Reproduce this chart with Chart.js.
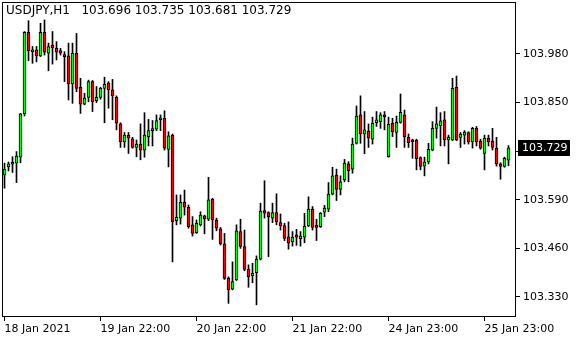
<!DOCTYPE html>
<html>
<head>
<meta charset="utf-8">
<script src="https://cdn.jsdelivr.net/npm/chart.js@4/dist/chart.umd.min.js"></script>
<style>
  html, body { margin: 0; padding: 0; background: #fff; }
  #wrap { width: 580px; height: 340px; }
</style>
</head>
<body>
<div id="wrap"><canvas id="priceChart" width="580" height="340"></canvas></div>
<script>
// USDJPY H1 candles
const symbol = 'USDJPY,H1';

const opens = [
  103.656, 103.678, 103.685, 103.688, 103.704, 103.820, 104.038, 103.986, 103.991, 103.975,
  104.038, 103.982, 104.004, 103.995, 103.989, 103.977, 103.975, 103.900, 103.982, 103.891,
  103.846, 103.864, 103.906, 103.855, 103.864, 103.888, 103.902, 103.884, 103.864, 103.793,
  103.745, 103.763, 103.753, 103.730, 103.739, 103.723, 103.759, 103.775, 103.779, 103.804,
  103.808, 103.725, 103.763, 103.534, 103.541, 103.583, 103.570, 103.523, 103.502, 103.523,
  103.547, 103.538, 103.591, 103.536, 103.512, 103.472, 103.380, 103.351, 103.376, 103.505,
  103.465, 103.404, 103.387, 103.395, 103.431, 103.561, 103.556, 103.541, 103.556, 103.529,
  103.521, 103.491, 103.478, 103.496, 103.486, 103.490, 103.520, 103.565, 103.521, 103.518,
  103.557, 103.565, 103.605, 103.656, 103.618, 103.643, 103.686, 103.672, 103.741, 103.817,
  103.766, 103.774, 103.752, 103.796, 103.799, 103.817, 103.705, 103.795, 103.770, 103.797,
  103.817, 103.757, 103.750, 103.750, 103.703, 103.680, 103.691, 103.723, 103.781, 103.788,
  103.804, 103.750, 103.750, 103.891, 103.757, 103.763, 103.770, 103.745, 103.781, 103.747,
  103.714, 103.755, 103.747, 103.728, 103.686, 103.679, 103.696
];
const highs = [
  103.688, 103.691, 103.705, 103.719, 103.821, 104.040, 104.069, 104.000, 104.000, 104.062,
  104.071, 104.009, 104.040, 104.013, 103.995, 103.986, 104.009, 104.009, 104.035, 103.915,
  103.875, 103.910, 103.909, 103.893, 103.891, 103.918, 103.906, 103.912, 103.868, 103.796,
  103.770, 103.770, 103.757, 103.750, 103.793, 103.823, 103.805, 103.802, 103.817, 103.817,
  103.828, 103.772, 103.766, 103.603, 103.603, 103.616, 103.576, 103.545, 103.536, 103.558,
  103.549, 103.650, 103.594, 103.541, 103.516, 103.500, 103.384, 103.424, 103.523, 103.538,
  103.509, 103.416, 103.420, 103.440, 103.581, 103.641, 103.558, 103.581, 103.606, 103.552,
  103.527, 103.531, 103.505, 103.511, 103.505, 103.554, 103.598, 103.572, 103.538, 103.556,
  103.575, 103.636, 103.677, 103.672, 103.654, 103.698, 103.692, 103.755, 103.841, 103.868,
  103.826, 103.793, 103.811, 103.826, 103.823, 103.826, 103.811, 103.808, 103.814, 103.873,
  103.830, 103.766, 103.752, 103.752, 103.705, 103.704, 103.741, 103.799, 103.838, 103.823,
  103.826, 103.763, 103.915, 103.921, 103.770, 103.775, 103.772, 103.784, 103.786, 103.752,
  103.763, 103.763, 103.781, 103.757, 103.689, 103.704, 103.735
];
const lows = [
  103.621, 103.667, 103.663, 103.636, 103.689, 103.814, 103.962, 103.955, 103.959, 103.973,
  103.977, 103.935, 103.953, 103.964, 103.977, 103.906, 103.857, 103.848, 103.879, 103.821,
  103.844, 103.852, 103.826, 103.850, 103.859, 103.796, 103.835, 103.804, 103.777, 103.730,
  103.730, 103.714, 103.728, 103.705, 103.697, 103.704, 103.734, 103.734, 103.775, 103.775,
  103.723, 103.678, 103.424, 103.523, 103.525, 103.549, 103.514, 103.493, 103.500, 103.520,
  103.499, 103.534, 103.484, 103.507, 103.469, 103.377, 103.313, 103.349, 103.374, 103.460,
  103.400, 103.356, 103.368, 103.309, 103.429, 103.541, 103.438, 103.529, 103.523, 103.509,
  103.481, 103.458, 103.466, 103.468, 103.466, 103.475, 103.518, 103.509, 103.481, 103.516,
  103.545, 103.558, 103.603, 103.588, 103.603, 103.638, 103.638, 103.661, 103.739, 103.741,
  103.713, 103.730, 103.739, 103.786, 103.781, 103.777, 103.704, 103.759, 103.730, 103.795,
  103.730, 103.730, 103.701, 103.670, 103.670, 103.654, 103.686, 103.721, 103.755, 103.734,
  103.734, 103.686, 103.748, 103.748, 103.730, 103.739, 103.739, 103.728, 103.734, 103.725,
  103.670, 103.734, 103.723, 103.680, 103.645, 103.677, 103.681
];
const closes = [
  103.672, 103.686, 103.690, 103.707, 103.820, 104.038, 103.989, 103.991, 103.975, 104.038,
  103.985, 104.000, 103.997, 103.985, 103.982, 103.973, 103.900, 103.982, 103.888, 103.846,
  103.862, 103.906, 103.852, 103.864, 103.888, 103.899, 103.884, 103.868, 103.795, 103.745,
  103.763, 103.755, 103.730, 103.739, 103.723, 103.763, 103.775, 103.779, 103.802, 103.809,
  103.728, 103.761, 103.531, 103.543, 103.583, 103.570, 103.518, 103.500, 103.527, 103.549,
  103.539, 103.590, 103.536, 103.514, 103.472, 103.380, 103.349, 103.371, 103.507, 103.465,
  103.404, 103.384, 103.393, 103.431, 103.560, 103.554, 103.545, 103.556, 103.531, 103.521,
  103.487, 103.474, 103.490, 103.490, 103.493, 103.520, 103.565, 103.516, 103.516, 103.554,
  103.568, 103.605, 103.654, 103.618, 103.638, 103.688, 103.668, 103.739, 103.814, 103.766,
  103.777, 103.755, 103.795, 103.804, 103.817, 103.812, 103.792, 103.772, 103.797, 103.824,
  103.759, 103.743, 103.745, 103.700, 103.679, 103.691, 103.725, 103.781, 103.793, 103.801,
  103.750, 103.757, 103.888, 103.750, 103.766, 103.771, 103.745, 103.781, 103.745, 103.728,
  103.755, 103.745, 103.730, 103.686, 103.679, 103.701, 103.729
];

// time axis: bar index of each label and its text
const timeTickBars = [0, 24, 48, 72, 96, 120];
const timeLabels = ['18 Jan 2021', '19 Jan 22:00', '20 Jan 22:00', '21 Jan 22:00', '24 Jan 23:00', '25 Jan 23:00'];

// price axis
const priceTicks = [103.330, 103.460, 103.590, 103.720, 103.850, 103.980];
const priceMin = 103.2765;
const priceMax = 104.119;

const FONT = '"DejaVu Sans", Verdana, sans-serif';
const bullColor = '#00ff00';
const bearColor = '#ff0000';

const bodies = opens.map((o, i) => ({x: i, y: [o, closes[i]]}));
const wicks = lows.map((l, i) => ({x: i, y: [l, highs[i]]}));
const bodyColors = opens.map((o, i) => closes[i] >= o ? bullColor : bearColor);

// frame, symbol line and the last price tag (MetaTrader style)
const terminalDecor = {
    id: 'terminalDecor',
    afterDraw(chart) {
        const ctx = chart.ctx;
        const area = chart.chartArea;
        const y = chart.scales.y;
        const last = closes.length - 1;

        ctx.save();
        ctx.strokeStyle = '#000';
        ctx.lineWidth = 1;
        ctx.strokeRect(area.left + 0.5, area.top + 0.5, area.right - area.left - 1, area.bottom - area.top - 1);

        ctx.font = '12px ' + FONT;
        ctx.fillStyle = '#000';
        ctx.textBaseline = 'top';
        const head = symbol + '   ' + [opens[last], highs[last], lows[last], closes[last]].map(v => v.toFixed(3)).join(' ');
        ctx.fillText(head, 6, 5);

        ctx.font = '11px ' + FONT;
        const py = Math.round(y.getPixelForValue(closes[last]));
        ctx.fillStyle = '#000';
        ctx.fillRect(area.right + 2, py - 8, 52, 16);
        ctx.fillStyle = '#fff';
        ctx.textBaseline = 'middle';
        ctx.fillText(closes[last].toFixed(3), area.right + 6, py);
        ctx.restore();
    }
};

// keep the plot box where the terminal puts it, whatever the label sizes say
const noLabelPadding = axis => {
    axis.paddingTop = 0;
    axis.paddingBottom = 0;
    axis.paddingLeft = 0;
    axis.paddingRight = 0;
};

const config = {
    type: 'bar',
    data: {
        datasets: [{
            label: 'body',
            data: bodies,
            backgroundColor: bodyColors,
            borderColor: '#000',
            borderWidth: 1,
            borderSkipped: false,
            barThickness: 3,
            minBarLength: 2,
            grouped: false
        }, {
            label: 'wick',
            data: wicks,
            backgroundColor: '#000',
            borderWidth: 0,
            barThickness: 1,
            grouped: false
        }]
    },
    options: {
        responsive: false,
        animation: false,
        events: [],
        layout: { padding: { left: 2, top: 2, right: 0, bottom: 0 } },
        plugins: {
            legend: { display: false },
            tooltip: { enabled: false }
        },
        scales: {
            x: {
                type: 'linear',
                offset: false,
                min: -0.625,
                max: 127.875,
                grid: { offset: false, drawOnChartArea: false, drawTicks: true, tickLength: 4, color: '#000' },
                border: { display: false },
                afterBuildTicks: axis => { axis.ticks = timeTickBars.map(v => ({value: v})); },
                afterFit: axis => { axis.height = 23; noLabelPadding(axis); },
                ticks: {
                    autoSkip: false,
                    maxRotation: 0,
                    align: 'start',
                    padding: 2,
                    color: '#000',
                    font: { family: FONT, size: 11 },
                    callback: (v, i) => timeLabels[i]
                }
            },
            y: {
                position: 'right',
                min: priceMin,
                max: priceMax,
                grid: { drawOnChartArea: false, drawTicks: true, tickLength: 4, color: '#000' },
                border: { display: false },
                afterBuildTicks: axis => { axis.ticks = priceTicks.map(v => ({value: v})); },
                afterFit: axis => { axis.width = 64; noLabelPadding(axis); },
                ticks: {
                    padding: 3,
                    color: '#000',
                    font: { family: FONT, size: 11 },
                    callback: v => v.toFixed(3)
                }
            }
        }
    },
    plugins: [terminalDecor]
};

new Chart(document.getElementById('priceChart'), config);
</script>
</body>
</html>
